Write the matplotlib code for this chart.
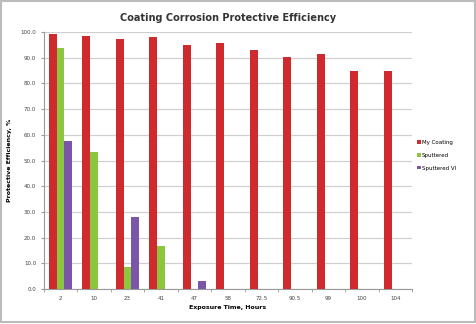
import matplotlib
matplotlib.use('Agg')
import matplotlib.pyplot as plt
import numpy as np

hours = ['2', '10', '23', '41', '47', '58', '72.5', '90.5', '99', '100', '104']
my_coating = [99.2, 98.3, 97.3, 98.0, 95.0, 95.7, 93.0, 90.4, 91.4, 85.0, 85.0]
sputtered = [93.7, 53.5, 8.5, 16.9, 0, 0, 0, 0, 0, 0, 0]
sputtered_vi = [57.8, 0, 28.0, 0, 3.3, 0, 0, 0, 0, 0, 0]

series = [('My Coating', my_coating, '#cf2b2f'),
          ('Sputtered', sputtered, '#8cc63e'),
          ('Sputtered VI', sputtered_vi, '#7b55a8')]

fig = plt.figure(figsize=(4.76, 3.24), dpi=100)
fig.patch.set_facecolor('white')
ax = fig.add_axes([0.092, 0.108, 0.774, 0.793])

x = np.arange(len(hours))
w = 0.235
for i, (name, vals, col) in enumerate(series):
    ax.bar(x + (i - 1) * w, vals, w, color=col, label=name, zorder=3, linewidth=0)

ax.set_xlim(-0.5, len(hours) - 0.5)
ax.set_ylim(0, 100)
ax.set_yticks(np.arange(0, 101, 10))
ax.set_yticklabels([f'{v:.1f}' for v in np.arange(0, 101, 10)])
ax.set_xticks(x)
ax.set_xticklabels(hours)
ax.set_xticks(np.arange(-0.5, len(hours), 1), minor=True)
ax.tick_params(axis='x', which='major', length=0, labelsize=4, colors='#444444', pad=5)
ax.tick_params(axis='x', which='minor', length=2, color='#999999')
ax.tick_params(axis='y', length=2, labelsize=4, colors='#444444', color='#999999')
ax.yaxis.grid(True, color='#d0d0d0', linewidth=0.9, zorder=0)
for s in ['top', 'right']:
    ax.spines[s].set_visible(False)
for s in ['left', 'bottom']:
    ax.spines[s].set_color('#999999')
    ax.spines[s].set_linewidth(0.8)

ax.set_title('Coating Corrosion Protective Efficiency', fontsize=7, fontweight='bold',
             color='#333333', pad=8)
ax.set_xlabel('Exposure Time, Hours', fontsize=4.5, fontweight='bold', labelpad=3)
ax.set_ylabel('Protective Efficiency, %', fontsize=4.5, fontweight='bold', labelpad=6)

ax.legend(loc='center left', bbox_to_anchor=(1.0, 0.52), frameon=False, fontsize=4,
          handlelength=0.6, handleheight=0.6, handletextpad=0.2, labelspacing=1.4)

fig.add_artist(plt.Rectangle((0.003, 0.006), 0.994, 0.99, transform=fig.transFigure,
                             fill=False, edgecolor='#bbbbbb', linewidth=1.5))

fig.savefig('out.png', dpi=100)
